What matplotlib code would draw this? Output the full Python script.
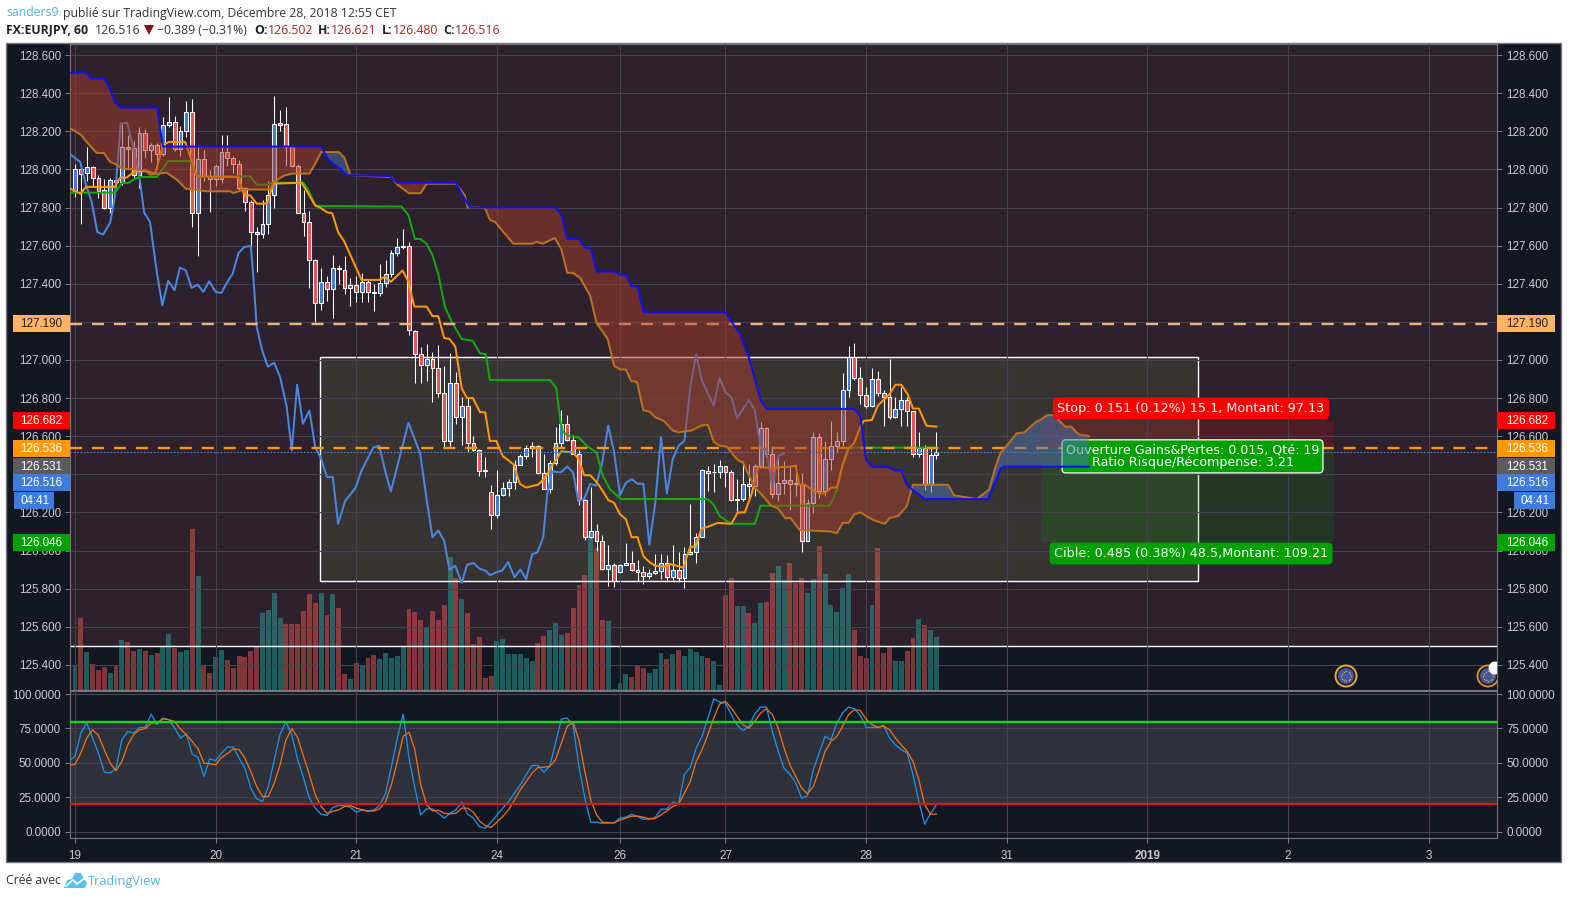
import numpy as np
import matplotlib
matplotlib.use("Agg")
import matplotlib.pyplot as plt
from matplotlib.patches import Rectangle, Circle, Polygon

plt.rcParams['font.family'] = ['Liberation Sans', 'DejaVu Sans']

# hourly candles, one entry per bar
opens = [127.881,128.004,127.98,128.01,127.955,127.89,127.80,127.945,127.935,128.12,128.11,127.97,128.19,128.103,128.13,128.08,
         128.235,128.25,128.105,128.2,128.3,127.77,128.056,127.96,127.95,127.95,128.09,128.06,128.03,127.9,127.83,127.67,127.66,
         127.715,127.865,128.245,128.24,128.12,128.02,127.77,127.725,127.525,127.3,127.41,127.37,127.485,
         127.473,127.379,127.393,127.356,127.41,127.356,127.352,127.403,127.45,127.562,127.594,127.597,127.153,127.031,126.975,
         127.006,126.959,126.828,126.576,126.88,126.70,126.76,126.566,126.529,126.419,126.309,126.188,126.293,126.33,126.361,126.45,
         126.498,126.54,126.548,126.408,126.324,126.461,126.566,126.665,126.581,126.508,126.267,126.073,126.104,126.048,125.905,
         125.926,125.887,125.926,125.936,125.9,
         125.886,125.865,125.883,125.892,125.935,125.86,125.9,125.855,125.983,125.991,126.073,126.416,126.411,126.411,126.441,126.413,
         126.269,126.269,126.35,126.337,126.446,126.643,126.507,126.297,126.355,126.371,126.35,126.35,126.052,126.25,126.594,126.311,
         126.481,126.547,126.573,126.843,127.014,126.906,126.816,126.759,126.9,126.827,126.808,126.699,126.743,126.79,126.733,126.507,
         126.538,126.343,126.502]
closes = [128.004,127.978,128.01,127.955,127.887,127.80,127.946,127.935,128.118,128.107,127.97,128.19,128.10,128.13,128.08,128.235,
          128.25,128.105,128.2,128.3,127.77,128.056,127.965,127.95,128.02,128.09,128.06,128.03,127.9,127.83,127.67,127.66,127.715,
          127.865,128.24,128.235,128.12,128.02,127.77,127.725,127.525,127.3,127.41,127.37,127.485,127.475,
          127.379,127.393,127.356,127.41,127.356,127.352,127.403,127.45,127.562,127.594,127.597,127.155,127.031,126.975,127.006,
          126.959,126.828,126.576,126.88,126.70,126.76,126.566,126.529,126.419,126.417,126.188,126.293,126.33,126.361,126.45,126.498,
          126.54,126.548,126.408,126.324,126.461,126.566,126.665,126.581,126.508,126.267,126.073,126.104,126.048,125.905,125.926,
          125.842,125.926,125.936,125.9,125.889,
          125.865,125.883,125.895,125.935,125.86,125.9,125.855,125.983,125.991,126.073,126.42,126.406,126.41,126.441,126.411,126.266,
          126.266,126.35,126.337,126.446,126.643,126.507,126.297,126.355,126.371,126.35,126.348,126.052,126.25,126.594,126.311,126.481,
          126.547,126.573,126.843,127.014,126.906,126.816,126.759,126.9,126.827,126.808,126.699,126.743,126.79,126.733,126.507,126.538,
          126.343,126.503,126.516]
highs = [128.03,128.02,128.117,128.02,127.97,127.95,127.957,127.99,128.24,128.18,128.15,128.22,128.21,128.14,128.14,128.275,
         128.38,128.28,128.23,128.36,128.37,128.13,128.1,127.995,128.03,128.18,128.18,128.07,128.05,127.91,127.84,127.7,127.84,
         127.94,128.385,128.31,128.33,128.13,128.03,127.89,127.78,127.53,127.48,127.44,127.55,127.5,
         127.543,127.431,127.438,127.456,127.426,127.396,127.505,127.522,127.575,127.641,127.688,127.618,127.158,127.067,127.085,
         127.041,127.076,126.966,127.035,126.936,126.805,126.805,126.6,126.534,126.49,126.342,126.421,126.36,126.377,126.473,126.508,
         126.552,126.569,126.552,126.508,126.473,126.648,126.739,126.709,126.604,126.529,126.272,126.333,126.141,126.08,126.027,
         125.936,125.931,126.041,125.996,125.952,
         125.921,125.904,125.983,125.983,125.979,126.03,125.991,126.021,126.245,126.093,126.43,126.446,126.455,126.476,126.441,126.42,
         126.376,126.472,126.455,126.455,126.677,126.647,126.551,126.493,126.472,126.446,126.455,126.406,126.271,126.621,126.615,
         126.577,126.682,126.624,126.93,127.075,127.089,126.962,126.86,126.958,126.944,126.84,127.005,126.808,126.86,126.808,126.734,
         126.624,126.556,126.538,126.621]
lows = [127.855,127.715,127.94,127.91,127.85,127.79,127.77,127.91,127.92,128.0,127.95,127.9,128.06,128.04,128.0,128.07,
        128.22,128.095,128.07,128.17,127.70,127.545,127.94,127.775,127.915,127.93,128.02,127.98,127.89,127.78,127.58,127.46,127.64,
        127.66,127.8,128.2,128.02,128.01,127.77,127.65,127.38,127.2,127.26,127.31,127.22,127.4,
        127.347,127.281,127.303,127.303,127.303,127.256,127.335,127.382,127.435,127.548,127.583,127.132,126.878,126.878,126.887,
        126.779,126.805,126.538,126.547,126.662,126.552,126.517,126.522,126.389,126.386,126.113,126.171,126.284,126.286,126.324,126.447,
        126.482,126.491,126.403,126.321,126.303,126.447,126.543,126.574,126.505,126.237,126.057,126.068,125.998,125.9,125.814,
        125.809,125.882,125.922,125.894,125.84,
        125.825,125.851,125.878,125.851,125.843,125.843,125.834,125.802,125.975,125.935,126.07,126.311,126.308,126.379,126.332,126.259,
        126.205,126.262,126.262,126.288,126.437,126.493,126.274,126.262,126.297,126.215,126.288,125.991,126.049,126.196,126.274,
        126.288,126.42,126.51,126.551,126.804,126.895,126.769,126.748,126.755,126.813,126.656,126.691,126.696,126.656,126.656,126.493,
        126.493,126.315,126.306,126.48]

volumes = [24,72,38,26,20,23,17,24,50,48,39,41,39,35,37,44,56,42,38,40,161,114,25,17,33,40,30,22,34,33,39,44,77,80,97,72,66,66,66,79,96,87,
           97,75,96,82,16,11,27,25,32,35,31,37,32,34,44,81,78,70,62,79,70,85,133,112,91,77,46,53,12,14,49,51,36,36,36,32,29,47,54,60,67,55,57,
           82,105,115,154,142,70,69,1,7,16,13,24,22,17,21,37,31,36,40,34,41,38,34,32,29,5,95,112,84,84,77,67,87,88,117,124,110,127,107,112,97,
           111,144,116,85,78,102,116,60,34,32,85,142,37,44,29,29,39,52,71,65,60,53]
vol_dir = list("trtrrrtrtrrtrtrttrttrtrrttrrrrrrttttrrrrrrtrtrrtrtrrtttttrrrtrrrtrtrrrrrtttttttrrtttrrrrtrrtttt"
               "rrrtttrtrttttrttrrttrttrrttrrrttrtttttrrrtrrrttrrtrtt")

# ichimoku lines, vertices (bar index, price)
senkou_b_x = [-1,2,2.8,5,6,6.8,7.8,14,15,42,43,44,45,46.4,53.7,55,65,66,67.4,82,83,84,86,87,88,89,92,93,94,95,96,97,111,113.5,115,117,118,133,134,135,136,139,140,141,142,143,145,151,155.8,158,158.5,173]
senkou_b = [128.507,128.507,128.476,128.476,128.418,128.354,128.324,128.324,128.12,128.12,128.062,128.03,128.01,127.97,127.965,127.93,127.93,127.87,127.8,127.8,127.76,127.635,127.635,127.59,127.587,127.464,127.464,127.447,127.447,127.387,127.385,127.25,127.25,127.135,127.014,126.79,126.743,126.743,126.708,126.475,126.44,126.437,126.42,126.42,126.341,126.318,126.27,126.27,126.27,126.43,126.44,126.44]
senkou_a_x = [-1,1,2,3.7,4.9,6,7,8,12,12.8,15.6,17.4,18.9,22.5,26.5,27,29,33.3,33.9,35.8,37.2,40,41,42,45,46,47,54,55,57,59,60,65,66.5,67,69,70,70.8,71.7,74.8,78,78.8,79.8,81.9,83,84,85,86.2,87.9,89,90.9,92,93,94,94.9,95.9,97,98,99,100.5,102,103,105.2,107,108,109,110,111.2,113,114,116,117,118.8,120,121.2,122.1,123.7,129,130,131,132,133,134,136.2,138.2,139,140.4,141.9,143,149,150,153.9,156,157,157.9,159,160.7,162,164,165,165.9,167,169,170,171.2,173]
senkou_a = [128.219,128.182,128.144,128.086,128.086,128.039,128.027,128.004,127.995,127.972,127.983,127.946,127.899,127.885,127.885,127.876,127.895,127.894,127.934,127.969,127.978,127.978,128.03,128.091,128.091,128.06,127.97,127.96,127.92,127.875,127.875,127.925,127.925,127.865,127.8,127.8,127.795,127.735,127.723,127.61,127.61,127.62,127.61,127.64,127.58,127.457,127.457,127.43,127.338,127.193,127.11,126.97,126.95,126.95,126.89,126.885,126.735,126.73,126.7,126.68,126.63,126.62,126.63,126.657,126.66,126.57,126.55,126.545,126.477,126.46,126.33,126.3,126.235,126.22,126.17,126.17,126.107,126.1,126.09,126.145,126.145,126.19,126.2,126.16,126.14,126.17,126.18,126.23,126.345,126.345,126.29,126.27,126.32,126.43,126.51,126.55,126.615,126.62,126.675,126.69,126.71,126.71,126.65,126.65,126.61,126.6]
kijun_x = [-1,6.8,8,9.1,10.2,11,14,15.9,19.6,20.9,29.9,31,32.7,33.9,39,40,41,42,55.7,56.9,58,58.9,60,61,62,63.1,64.3,66,67.9,69.1,70.1,70.8,81,82.1,82.9,83.3,84.5,85.9,87.5,89,90.1,91.3,93.2,108,109,110,112,116,117,128.8,130,131,132,132.9,147]
kijun = [127.878,127.878,127.929,127.929,127.95,127.96,127.96,128.044,128.044,127.96,127.964,127.92,127.92,127.93,127.93,127.88,127.81,127.808,127.805,127.76,127.635,127.635,127.61,127.55,127.45,127.28,127.2,127.11,127.1,127.035,127.03,126.895,126.895,126.855,126.665,126.62,126.6,126.595,126.545,126.515,126.39,126.32,126.27,126.27,126.24,126.18,126.14,126.14,126.235,126.235,126.315,126.45,126.535,126.54,126.54]
tenkan_x = [-1,0.9,1.9,6.8,7.7,8.8,10.2,12.5,13.7,15,16,18.8,20.8,27.9,28.9,29.9,31,32.7,33.9,38.7,41,41.8,43,43.9,44.9,45.9,48.9,51.9,52.9,53.9,55.9,56.9,57.9,60,61,62,63,63.9,64.9,66,66.9,67.9,69.1,70,70.8,71.9,73,73.9,74.9,75.9,77,78.2,79,80.2,81.3,83,85,85.9,86.9,87.9,89,90.1,91,92,93,94,95,96,97,98,99,100.7,101.5,103.8,105,105.9,106.9,108,109.7,112,113.1,114.3,115.5,116.6,117,118.9,122,123,123.6,124.6,125.7,127.1,128,129,130,131,132,132.9,134,134.6,136,137,139,140,141,142.1,143,144,145.3,147]
tenkan = [127.903,127.873,127.908,127.908,127.957,127.957,127.99,127.99,127.978,128.126,128.144,128.144,127.964,127.96,127.864,127.864,127.82,127.82,127.925,127.93,127.81,127.8,127.775,127.77,127.67,127.625,127.42,127.42,127.437,127.41,127.47,127.41,127.28,127.28,127.23,127.23,127.115,127.11,127.07,126.85,126.8,126.8,126.727,126.725,126.575,126.575,126.495,126.475,126.45,126.35,126.33,126.34,126.345,126.38,126.44,126.52,126.515,126.48,126.395,126.395,126.36,126.31,126.265,126.25,126.19,126.165,126.07,126.07,125.97,125.94,125.92,125.915,125.93,125.91,126.02,126.02,126.115,126.125,126.145,126.14,126.2,126.2,126.3,126.44,126.435,126.435,126.44,126.445,126.345,126.345,126.32,126.3,126.3,126.33,126.33,126.45,126.535,126.56,126.647,126.68,126.685,126.76,126.82,126.87,126.87,126.82,126.745,126.745,126.655,126.65]
chikou_x = [-1,0.9,1.9,2.85,3.8,4.8,6,6.8,7.8,8.9,10,11,11.8,12.8,14,14.9,15.9,17,17.9,18.9,19.9,20.9,21.9,22.9,24,25,25.9,26.9,27.9,28.9,30,30.4,31,31.9,32.9,34,35,36.1,37,37.9,38.9,40,41,41.9,43,44,44.9,46.1,47.9,48.9,50.9,51.9,53,53.9,55.9,56.9,58.9,60,61,62,63,63.9,64.9,66,66.9,68,69,70,70.9,71.8,72.9,73.9,75,76,77,78,78.9,79.9,80.6,81.4,82.9,84,85,85.9,86.9,87.9,88.9,89.9,91,92,93,94,95,96,97,98,99,100,101,102,103,104,105,106,107,109,110,111,112,113,115,116,117,118,119,120,121]
chikou = [128.083,128.039,127.916,127.829,127.672,127.658,127.72,127.855,128.24,128.245,128.109,127.96,127.773,127.724,127.453,127.287,127.415,127.366,127.485,127.47,127.378,127.395,127.357,127.413,127.357,127.352,127.404,127.453,127.561,127.593,127.598,127.453,127.175,127.055,126.965,126.985,126.91,126.76,126.525,126.87,126.665,126.735,126.54,126.49,126.385,126.385,126.14,126.26,126.33,126.42,126.54,126.55,126.41,126.31,126.55,126.67,126.51,126.27,126.07,126.105,126.05,125.9,125.92,125.83,125.925,125.935,125.905,125.895,125.87,125.885,125.895,125.94,125.86,125.9,125.85,125.98,125.99,126.07,126.3,126.415,126.41,126.44,126.41,126.26,126.27,126.35,126.34,126.45,126.655,126.515,126.29,126.355,126.375,126.35,126.35,126.03,126.245,126.595,126.3,126.48,126.55,126.575,126.855,127.03,126.89,126.76,126.905,126.83,126.805,126.695,126.79,126.735,126.54,126.53,126.33,126.495,126.51]

# stochastic, starts one bar before the first candle
stoch_k = [51.5,54.6,71.6,78.9,68,57,43.2,42.5,46,66.7,72.8,71.6,75.7,75.7,85.4,78,82.5,81.3,75.2,68,70.9,56.3,53.9,40,52.9,51.5,57,61.4,61.4,53.4,46,31.6,23.8,21.8,32.8,52.2,70.9,79.6,70.4,52.2,38.8,24.3,17,12.6,11.7,17.5,18.9,18.9,17.5,14.1,15.8,15,15.8,18.9,27.9,47.3,68,85.4,53.4,31.6,12.1,16.5,16.5,13.3,9.7,13.3,15.8,21.4,12.6,9.7,3.6,2.4,6.8,12,17,
           21.8,27.9,34,41.3,48,48,43.2,47.3,64.3,81.8,82.5,77.2,47.3,24.3,6.8,6.8,6,6.3,6.3,9.7,10.4,12.6,10.9,9,9,10.2,16.3,16.3,21.4,19.9,41.7,46.6,60.7,69.2,82.5,96.4,94.2,93.4,85,77.2,73.3,76.5,85.4,90.5,90.5,72.8,58.3,46,41.7,35.2,24.3,26,45,57,69.2,66.7,78.9,86.2,90.5,89.3,84.5,75.7,75.7,75.7,77.2,68,63,59.5,57,41.3,21.8,5.3,13.3,19.4]
stoch_d = [48,49,57,68,74,70,59.5,49.8,44.2,51,63,70.4,74,74.8,78.9,78.9,82,81.3,80,74.5,70.4,65.5,60.2,49.8,49.3,48.5,53.9,56.6,60.2,59.5,53.4,43.7,32.8,25.5,25.5,35.2,48.5,66.7,74.8,68.4,54.6,41.3,26.7,18.2,13.3,14.6,15.8,18.2,18.9,17,15.8,14.6,15,16.5,21.8,34,51,69.2,72.3,59.5,34,19.4,15,15.5,13.3,12.9,13.3,17,17,14,7.8,4.4,2.9,7,11,
           15.8,23,30.3,36.4,42.5,46.6,46.8,47.3,52.2,64.3,76.5,79.4,66.7,43.7,23,12.1,6.8,6.3,6.3,8.5,9.7,11.2,11.2,10.4,9.2,9.5,12.1,15,18.2,19.9,27.9,36.4,51,59.5,70.4,82.5,92.7,94.7,89.8,83.7,77.7,75.2,80.1,86.2,89.3,85,75.2,60.7,48.5,40,31.6,27.4,32.8,44.9,58.3,65.5,69.2,76.5,85,88.6,88.1,81.8,77.7,76,76.5,74,68,63,58.3,51,37.6,19.4,12.6,12.6]

date_ticks = [0,24,48,72,93,111,135,159,183,207,231]
date_labels = ['19','20','21','24','26','27','28','31','2019','2','3']
price_ticks = [round(125.4 + 0.2 * n, 1) for n in range(17)]
hidden_prices = [126.4, 127.2]  # sit fully behind the coloured price boxes
stoch_ticks = [0,25,50,75,100]

level_pale, level_orange, last_price = 127.19, 126.536, 126.516
stop_level, target_level = 126.682, 126.046
box_top, box_bottom = 127.016, 125.84
volume_split = 125.5

W, H = 1570, 899
DARK = '#131722'
TINT = '#2d212e'
GRIDC = '#46434f'
AXISC = '#74777e'
TEXTC = '#c8cacf'
BLUE, RED = '#3f7bdc', '#ef5350'
TICK_SIZE = 8.4

def axes_px(x0, y0, x1, y1, **kw):
    return fig.add_axes([x0 / W, 1 - y1 / H, (x1 - x0) / W, (y1 - y0) / H], **kw)

fig = plt.figure(figsize=(W / 100, H / 100), dpi=100, facecolor='white')

back = axes_px(0, 0, W, H, zorder=-1)
back.set_xlim(0, W); back.set_ylim(H, 0); back.axis('off')
back.add_patch(Rectangle((6, 43), 1555, 819, fc=DARK, ec=AXISC, lw=1.0))

vol_ax = axes_px(70, 44, 1497, 690, zorder=0.5)
ax = axes_px(70, 44, 1497, 690, zorder=1)
ax2 = axes_px(70, 691, 1497, 838, zorder=1)
top = axes_px(0, 0, W, H, zorder=10)
top.set_xlim(0, W); top.set_ylim(H, 0); top.axis('off')

xlim = (-0.853, 242.66)
ax.set_xlim(xlim); ax2.set_xlim(xlim); vol_ax.set_xlim(xlim)
ax.set_ylim(125.268, 128.658)
ax2.set_ylim(-4.7, 102.2)

for a in (ax, ax2):
    for s in a.spines.values():
        s.set_color(AXISC); s.set_linewidth(0.8)
    a.set_xticks(date_ticks)
    a.grid(True, color=GRIDC, lw=0.8)
    a.set_axisbelow(False)
ax2.set_facecolor(DARK)
ax.patch.set_visible(False)

# volume sits behind everything in the price panel
vol_ax.set_ylim(0, 646)
vol_ax.set_xticks([]); vol_ax.set_yticks([])
vol_ax.set_facecolor(DARK)
for s in vol_ax.spines.values():
    s.set_visible(False)
vol_ax.axhspan(44, 646, color=TINT, lw=0, zorder=0.1)
vol_colors = ['#26a69a' if d == 't' else '#ef5350' for d in vol_dir]
vol_ax.bar(np.arange(len(volumes)), volumes, width=0.84, color=vol_colors, alpha=0.5, lw=0, zorder=1)

# main panel -------------------------------------------------------------
ax.set_yticks(price_ticks)
ax.set_yticklabels(['' if p in hidden_prices else '%.3f' % p for p in price_ticks])
ax.tick_params(axis='y', left=True, right=True, labelleft=True, labelright=True, labelsize=TICK_SIZE,
               labelcolor=TEXTC, color=AXISC, length=3.6, pad=3, width=0.8)
ax.tick_params(axis='x', bottom=False, labelbottom=False)
ax.axhline(volume_split, color='white', lw=1.0, zorder=2.2)

ax.add_patch(Rectangle((41.8, box_bottom), 149.8, box_top - box_bottom, fc=(0.61, 0.84, 0.38, 0.10),
                       ec='white', lw=1.0, zorder=1.5))

# position tool
ax.add_patch(Rectangle((164.8, level_orange), 50, stop_level - level_orange, fc=(1, 0, 0, 0.17), lw=0, zorder=1.6))
ax.add_patch(Rectangle((164.8, target_level), 50, level_orange - target_level, fc=(0, 0.63, 0, 0.17), lw=0, zorder=1.6))

bars = np.arange(len(opens))
o, c, hi, lo = map(np.array, (opens, closes, highs, lows))
ax.vlines(bars, lo, hi, color='white', lw=0.75, zorder=3)
body_colors = [BLUE if cl >= op else RED for op, cl in zip(o, c)]
ax.bar(bars, np.maximum(np.abs(c - o), 0.004), bottom=np.minimum(o, c), width=0.66, color=body_colors,
       edgecolor='white', lw=0.75, zorder=3.1)

ax.plot(chikou_x, chikou, color='#4a86e0', lw=1.45, zorder=3.4)
ax.plot(kijun_x, kijun, color='#11aa0e', lw=1.45, zorder=3.5)
ax.plot(tenkan_x, tenkan, color='#ff9800', lw=1.45, zorder=3.6)

ax.axhline(level_pale, color='#f0b27c', lw=1.7, dashes=(5.1, 4.2), zorder=3.7)
ax.axhline(level_orange, color='#ff9800', lw=1.7, dashes=(5.1, 4.2), zorder=3.7)
ax.axhline(last_price, color='#3f86f0', lw=0.8, ls=(0, (1.5, 1.5)), zorder=3.7)

# the middle label of the tool sits under the cloud
ax.text(190.7, 126.494, 'Ouverture Gains&Pertes: 0.015, Qté: 19\nRatio Risque/Récompense: 3.21',
        color='white', fontsize=9.1, family='DejaVu Sans', ha='center', va='center', linespacing=0.95, zorder=3.8,
        bbox=dict(boxstyle='round,pad=0.3', fc='#00a000', ec='white', lw=0.9))

grid = np.linspace(-1, 173, 1800)
span_a = np.interp(grid, senkou_a_x, senkou_a)
span_b = np.interp(grid, senkou_b_x, senkou_b)
ax.fill_between(grid, span_a, span_b, where=span_a <= span_b, interpolate=True, color='#a93d2a', alpha=0.5, lw=0, zorder=4)
ax.fill_between(grid, span_a, span_b, where=span_a >= span_b, interpolate=True, color='#4c73b3', alpha=0.5, lw=0, zorder=4)
ax.plot(senkou_a_x, senkou_a, color='#b8721f', lw=1.45, zorder=4.1)
ax.plot(senkou_b_x, senkou_b, color='#1010ee', lw=1.45, zorder=4.2)

for cx, ring in ((1346, '#e8aa38'), (1488, '#e08a28')):
    ax.add_patch(Circle((cx, 676), 10.5, transform=top.transData, fc='#141a2a', ec=ring, lw=1.4, zorder=6))
    ax.add_patch(Circle((cx, 676), 8, transform=top.transData, fc='#43559f', ec='none', zorder=6.1))
    ang = np.arange(12) * np.pi / 6
    ax.scatter(cx + 5 * np.cos(ang), 676 + 5 * np.sin(ang), s=1.2, color='#c9ad4a', lw=0, zorder=6.2,
               transform=top.transData)
ax.add_patch(Circle((1495, 668), 6.5, transform=top.transData, fc='white', ec='none', zorder=6.3))

# oscillator panel -------------------------------------------------------
ax2.axhspan(20, 80, color='#2e303a', lw=0, zorder=0.2)
ax2.set_yticks(stoch_ticks)
ax2.set_yticklabels(['%.4f' % v for v in stoch_ticks])
ax2.tick_params(axis='y', left=True, right=True, labelleft=True, labelright=True, labelsize=TICK_SIZE,
                labelcolor=TEXTC, color=AXISC, length=3.6, pad=3, width=0.8)
ax2.set_xticklabels(date_labels)
ax2.tick_params(axis='x', labelsize=TICK_SIZE, labelcolor=TEXTC, color=AXISC, length=3.6, pad=5, width=0.8)
ax2.get_xticklabels()[8].set_fontweight('bold')
stoch_x = np.arange(len(stoch_k)) - 1
ax2.plot(stoch_x, stoch_k, color='#1e90e6', lw=0.95, zorder=3)
ax2.plot(stoch_x, stoch_d, color='#e8701a', lw=0.95, zorder=3.1)
ax2.axhline(80, color='#16d916', lw=1.7, zorder=3.2)
ax2.axhline(20, color='#c81e1e', lw=1.7, zorder=3.2)

# price labels on both scales -------------------------------------------
labels = [
    ('127.190', 315, 332, '#ffb366', '#222222'),
    ('126.682', 412, 429, '#ff0000', 'white'),
    ('126.536', 440, 457, '#ff9800', 'white'),
    ('126.531', 458, 474, '#5b5b5b', 'white'),
    ('126.516', 474, 491, '#3f7bdc', 'white'),
    ('126.046', 534, 551, '#00a000', 'white'),
]
for txt, y0, y1, fc, tc in labels:
    top.add_patch(Rectangle((13, y0), 57, y1 - y0, fc=fc, lw=0))
    top.text(41, (y0 + y1) / 2 + 0.5, txt, color=tc, fontsize=TICK_SIZE, ha='center', va='center')
    top.add_patch(Rectangle((1497, y0), 58, y1 - y0, fc=fc, lw=0))
    top.text(1527, (y0 + y1) / 2 + 0.5, txt, color=tc, fontsize=TICK_SIZE, ha='center', va='center')
top.add_patch(Rectangle((14, 492), 40, 17, fc='#3f7bdc', lw=0))
top.text(35, 501, '04:41', color='white', fontsize=TICK_SIZE, ha='center', va='center')
top.add_patch(Rectangle((1514, 492), 41, 17, fc='#3f7bdc', lw=0))
top.text(1535, 501, '04:41', color='white', fontsize=TICK_SIZE, ha='center', va='center')

top.text(1191, 408.5, 'Stop: 0.151 (0.12%) 15.1, Montant: 97.13', color='white', fontsize=9.15, family='DejaVu Sans',
         ha='center', va='center', bbox=dict(boxstyle='round,pad=0.35', fc='#ff0000', ec='none'))
top.text(1191, 553.5, 'Cible: 0.485 (0.38%) 48.5,Montant: 109.21', color='white', fontsize=9.15, family='DejaVu Sans',
         ha='center', va='center', bbox=dict(boxstyle='round,pad=0.35', fc='#00a000', ec='none'))

# header and footer ------------------------------------------------------
HEAD = 'Open Sans'
HS = 8.85
SKY = '#4db5e8'
DK = '#333333'
WINE = '#b71c1c'
top.text(6, 13, 'sanders9', color=SKY, fontsize=HS, family=HEAD, va='center')
top.text(63, 13, 'publié sur TradingView.com, Décembre 28, 2018 12:55 CET', color=DK, fontsize=HS, family=HEAD, va='center')
top.text(6, 30, 'FX:EURJPY, 60', color='#222222', fontsize=HS, family=HEAD, weight='bold', va='center')
top.text(95, 30, '126.516', color=DK, fontsize=HS, family=HEAD, va='center')
top.add_patch(Polygon([(144, 25), (154, 25), (149, 35)], fc='#8b1010', lw=0))
top.text(157, 30, '\u22120.389 (\u22120.31%)', color=DK, fontsize=HS, family=HEAD, va='center')
for lx, lab, vx, val in ((254, 'O:', 268, '126.502'), (318, 'H:', 331, '126.621'), (382, 'L:', 393, '126.480'), (443, 'C:', 455, '126.516')):
    top.text(lx, 30, lab, color='#222222', fontsize=HS, family=HEAD, weight='bold', va='center')
    top.text(vx, 30, val, color=WINE, fontsize=HS, family=HEAD, va='center')

top.text(6, 881, 'Créé avec', color=DK, fontsize=HS, family=HEAD, va='center')
top.text(88, 881, 'TradingView', color=SKY, fontsize=9.2, family=HEAD, va='center')
top.add_patch(Polygon([(64, 888), (67, 880), (72, 879), (75, 873), (81, 873), (84, 879), (87, 883), (85, 888)],
                      fc='#5cc0ec', lw=0))
top.plot([66, 73, 77, 85], [886, 880, 884, 878], color='white', lw=1.2)

fig.savefig('out.png', dpi=100, facecolor='white')
